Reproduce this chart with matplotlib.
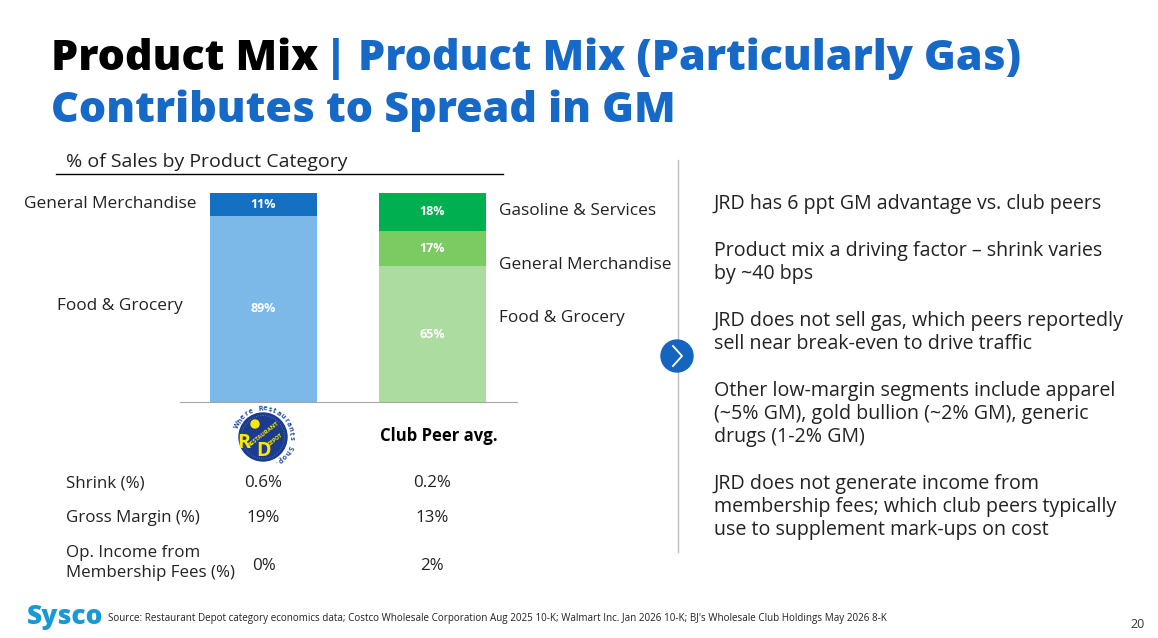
import numpy as np
import matplotlib.pyplot as plt
from matplotlib import transforms
from matplotlib.patches import Circle

W, H = 1158, 638

# stacked bar data (% of sales)
bar_names = ["Restaurant Depot", "Club Peer avg."]
food = [89, 65]
gen_merch = [11, 17]
gas = [0, 18]

# table under the bars
metrics = ["Shrink (%)", "Gross Margin (%)", "Op. Income from\nMembership Fees (%)"]
jrd_vals = ["0.6%", "19%", "0%"]
peer_vals = ["0.2%", "13%", "2%"]

bullets = [
    ["JRD has 6 ppt GM advantage vs. club peers"],
    ["Product mix a driving factor \u2013 shrink varies", "by ~40 bps"],
    ["JRD does not sell gas, which peers reportedly", "sell near break-even to drive traffic"],
    ["Other low-margin segments include apparel", "(~5% GM), gold bullion (~2% GM), generic", "drugs (1-2% GM)"],
    ["JRD does not generate income from", "membership fees; which club peers typically",
     "use to supplement mark-ups on cost"],
]

source = ("Source: Restaurant Depot category economics data; Costco Wholesale Corporation Aug 2025 10-K; "
          "Walmart Inc. Jan 2026 10-K; BJ's Wholesale Club Holdings May 2026 8-K")

c_food_jrd = "#7DB9E8"
c_gm_jrd = "#1570C2"
c_food_peer = "#ADDCA0"
c_gm_peer = "#7BCB63"
c_gas_peer = "#00B050"
blue = "#1769C8"

plt.rcParams['font.family'] = ['Open Sans', 'DejaVu Sans']

fig = plt.figure(figsize=(W / 100, H / 100), dpi=100)
fig.patch.set_facecolor("white")

# background axes in pixel coordinates for slide text and decorations
bg = fig.add_axes([0, 0, 1, 1])
bg.set_xlim(0, W)
bg.set_ylim(H, 0)
bg.axis("off")

# ---- title ----
tfont = dict(family=['Open Sans', 'DejaVu Sans'], fontweight=800, fontsize=31)
t1 = bg.text(51, 70, "Product Mix ", color="black", va="baseline", **tfont)
fig.canvas.draw()
bb = t1.get_window_extent()
bg.text(bb.x1 - 4, 70, "| Product Mix (Particularly Gas)", color=blue, va="baseline", **tfont)
bg.text(51, 122, "Contributes to Spread in GM", color=blue, va="baseline", **tfont)

# ---- chart subtitle ----
bg.text(66, 162, "% of Sales by Product Category", fontsize=14, va="center", color="#222222")
bg.plot([56, 503], [174, 174], color="black", lw=1)

# ---- stacked bars ----
x0, x1, ytop, ybot = 180, 517, 193, 402
ax = fig.add_axes([x0 / W, 1 - ybot / H, (x1 - x0) / W, (ybot - ytop) / H])
xs = np.arange(len(bar_names))
width = 0.635
ax.bar(xs[:1], food[:1], width, color=c_food_jrd)
ax.bar(xs[:1], gen_merch[:1], width, bottom=food[:1], color=c_gm_jrd)
ax.bar(xs[1:], food[1:], width, color=c_food_peer)
ax.bar(xs[1:], gen_merch[1:], width, bottom=food[1:], color=c_gm_peer)
ax.bar(xs[1:], gas[1:], width, bottom=np.array(food[1:]) + np.array(gen_merch[1:]), color=c_gas_peer)
ax.set_xlim(-0.4955, 1.504)
ax.set_ylim(0, 100)
for s in ["top", "right", "left"]:
    ax.spines[s].set_visible(False)
ax.spines["bottom"].set_color("#A6A6A6")
ax.set_xticks([])
ax.set_yticks([])
ax.patch.set_alpha(0)

for i in xs:
    bottom = 0
    for v in (food[i], gen_merch[i], gas[i]):
        if v > 0:
            ax.text(i, bottom + v / 2, f"{v}%", ha="center", va="center", color="white",
                    fontsize=9, fontweight="bold")
        bottom += v

# category labels
lab = dict(fontsize=12.4, va="center", color="#222222")
bg.text(197, 204, "General Merchandise", ha="right", **lab)
bg.text(120, 306, "Food & Grocery", ha="center", **lab)
bg.text(499, 211, "Gasoline & Services", ha="left", **lab)
bg.text(499, 265, "General Merchandise", ha="left", **lab)
bg.text(499, 318, "Food & Grocery", ha="left", **lab)

# ---- column headers: logo + "Club Peer avg." ----
colx = transforms.blended_transform_factory(ax.transData, bg.transData)
bg.text(1.04, 436, bar_names[1], transform=colx, ha="center", va="center",
        fontsize=12, fontweight="bold", color="black")

cx, cy, r = 263, 437, 24
bg.add_patch(Circle((cx, cy), r, color="#1B3C8C", zorder=3))
bg.add_patch(Circle((cx, cy), r - 2.5, fill=False, ec="#5C7CC0", lw=0.6, ls=":", zorder=3))
bg.text(244, 443, "R", color="#FFE800", fontsize=14, fontweight="bold", ha="center", va="center", zorder=4)
bg.text(264, 451, "D", color="#FFE800", fontsize=14, fontweight="bold", ha="center", va="center", zorder=4)
bg.text(263, 434, "RESTAURANT", color="#FFE800", fontsize=4.2, fontweight="bold", rotation=38,
        ha="center", va="center", zorder=4)
bg.text(275, 440, "DEPOT", color="#FFE800", fontsize=3.8, fontweight="bold", rotation=38,
        ha="center", va="center", zorder=4)
bg.add_patch(Circle((255, 424), 4, color="#FFE800", zorder=4))
arc = "Where Restaurants Shop."
angs = np.radians(np.linspace(155, -62, len(arc)))
for ch, a in zip(arc, angs):
    bg.text(cx + 28 * np.cos(a), cy - 28 * np.sin(a), ch, rotation=np.degrees(a) - 90,
            ha="center", va="center", fontsize=5.2, fontweight="bold", color="#1E4FA8")

# ---- table ----
rows_y = [483, 518, 563]
for name, y, v1, v2 in zip(metrics, rows_y, jrd_vals, peer_vals):
    lines = name.split("\n")
    if len(lines) == 1:
        bg.text(66, y, name, fontsize=12.2, va="center", color="#222222")
        vy = y
    else:
        bg.text(66, 553, lines[0], fontsize=12.2, va="center", color="#222222")
        bg.text(66, 573, lines[1], fontsize=12.2, va="center", color="#222222")
        vy = 566
    bg.text(0, vy, v1, transform=colx, ha="center", va="center", fontsize=12.2, color="#222222")
    bg.text(1, vy, v2, transform=colx, ha="center", va="center", fontsize=12.2, color="#222222")

# ---- divider + chevron ----
bg.plot([678, 678], [160, 552], color="#BFBFBF", lw=1)
bg.add_patch(Circle((677, 356), 16, color="#1565C0", zorder=5))
bg.plot([673, 682, 673], [346, 356, 366], color="white", lw=1.3, zorder=6)

# ---- bullet text ----
y = 204
for block in bullets:
    for line in block:
        bg.text(714, y, line, fontsize=14.1, va="center", color="#222222")
        y += 23
    y += 24

# ---- footer ----
bg.text(27, 617, "Sysco", family=['Open Sans', 'DejaVu Sans'], fontweight=800, fontsize=19,
        color="#1898D5", va="center")
bg.text(108, 619, source, fontsize=7.1, va="center", color="#222222")
bg.text(1138, 625, "20", fontsize=9, va="center", ha="center", color="#333333")

fig.savefig("out.png", dpi=100)
